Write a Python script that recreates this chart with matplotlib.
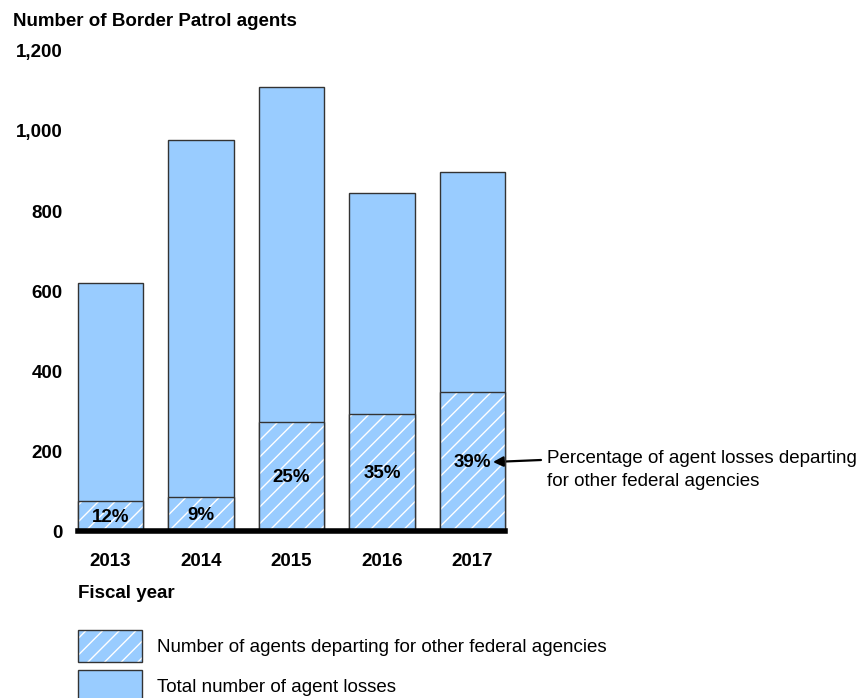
import numpy as np
import matplotlib
matplotlib.use("Agg")
import matplotlib.pyplot as plt
from matplotlib.patches import Rectangle

plt.rcParams["font.family"] = ["Liberation Sans", "DejaVu Sans"]
plt.rcParams["hatch.linewidth"] = 1.0

# данные
years = ["2013", "2014", "2015", "2016", "2017"]
total_losses = [620, 978, 1110, 845, 897]
other_federal = [75, 85, 272, 292, 347]
pct_labels = ["12%", "9%", "25%", "35%", "39%"]
yticks = [0, 200, 400, 600, 800, 1000, 1200]
ytick_labels = ["0", "200", "400", "600", "800", "1,000", "1,200"]

blue = "#99CCFF"
edge = "#333333"
fs = 13.5
W, H = 866, 698

fig = plt.figure(figsize=(W / 100, H / 100), dpi=100)
ax = fig.add_axes([78 / W, (H - 531) / H, 427 / W, 480 / H])

x = np.arange(len(years))
bw = 0.72
b1 = ax.bar(x, total_losses, width=bw, color=blue, edgecolor=edge, linewidth=1.0, zorder=2)
b2 = ax.bar(x, other_federal, width=bw, color=blue, edgecolor="white", linewidth=0, hatch="//", zorder=3)
b3 = ax.bar(x, other_federal, width=bw, fill=False, edgecolor=edge, linewidth=1.0, zorder=4)
for bars in (b1, b2, b3):
    for p in bars:
        p.set_clip_on(False)

for xi, v, lab in zip(x, other_federal, pct_labels):
    ax.text(xi, v / 2 - 3, lab, ha="center", va="center", fontsize=fs, fontweight="bold", zorder=5)

ax.axhline(0, color="black", linewidth=4, zorder=6, clip_on=False)
ax.set_xlim(-0.36, 4.36)
ax.set_ylim(0, 1200)
ax.set_yticks(yticks)
ax.set_yticklabels(ytick_labels, fontsize=fs, fontweight="bold")
ax.set_xticks(x)
ax.set_xticklabels(years, fontsize=fs, fontweight="bold")
ax.tick_params(axis="y", length=0, pad=11)
ax.tick_params(axis="x", length=0, pad=16)
for s in ax.spines.values():
    s.set_visible(False)

fig.text(13 / W, 1 - 21 / H, "Number of Border Patrol agents", fontsize=fs, fontweight="bold",
         ha="left", va="center")
fig.text(78 / W, 1 - 593 / H, "Fiscal year", fontsize=fs, fontweight="bold", ha="left", va="center")

# стрелка к последнему столбцу
ax.annotate("", xy=(4.227, other_federal[-1] / 2 - 1), xycoords="data",
            xytext=(541 / W, 1 - 460 / H), textcoords="figure fraction",
            arrowprops=dict(arrowstyle="-|>", color="black", lw=1.6, mutation_scale=15,
                            shrinkA=0, shrinkB=0))
fig.text(547 / W, 1 - 470 / H, "Percentage of agent losses departing\nfor other federal agencies",
         fontsize=fs, ha="left", va="center", linespacing=1.4)

# легенда
fig.patches.append(Rectangle((78 / W, 1 - 662 / H), 64 / W, 32 / H, transform=fig.transFigure,
                             facecolor=blue, edgecolor="white", linewidth=0, hatch="//", figure=fig))
fig.patches.append(Rectangle((78 / W, 1 - 662 / H), 64 / W, 32 / H, transform=fig.transFigure,
                             fill=False, edgecolor=edge, linewidth=1.0, figure=fig))
fig.patches.append(Rectangle((78 / W, 1 - 702 / H), 64 / W, 32 / H, transform=fig.transFigure,
                             facecolor=blue, edgecolor=edge, linewidth=1.0, figure=fig))
fig.text(157 / W, 1 - 647 / H, "Number of agents departing for other federal agencies",
         fontsize=fs, ha="left", va="center")
fig.text(157 / W, 1 - 688 / H, "Total number of agent losses", fontsize=fs, ha="left", va="center")

fig.savefig("out.png", dpi=100)
